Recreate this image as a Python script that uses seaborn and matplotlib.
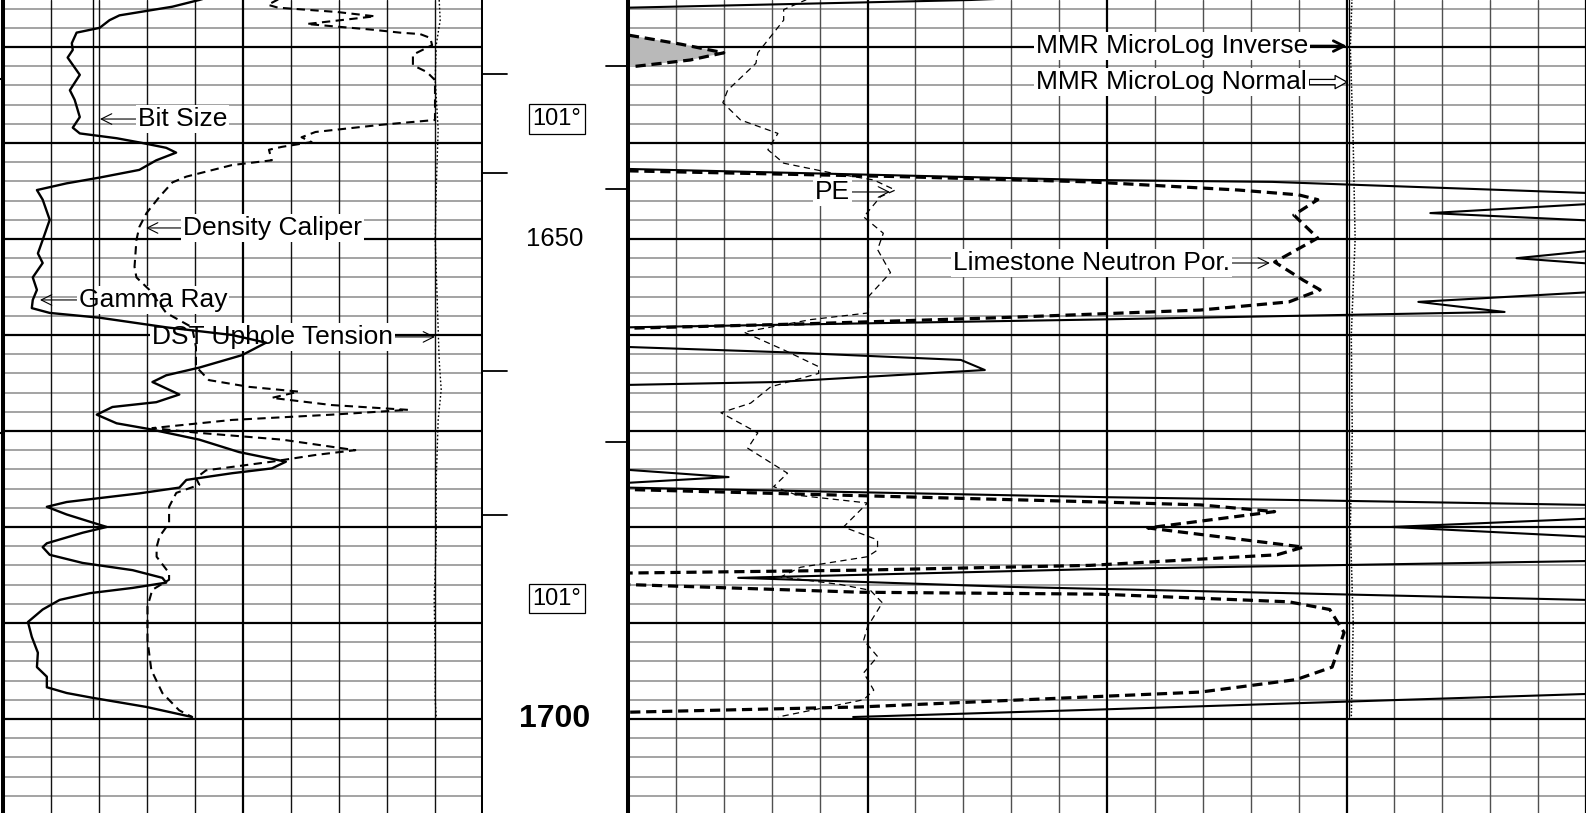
import numpy as np
import matplotlib
matplotlib.use("Agg")
import matplotlib.pyplot as plt
import seaborn as sns

# ------------------------------------------------------------------ data
# Track 1 (left) : (depth ft, value)
gr_log = [(1624.8, 64.4), (1625.1, 61.3), (1625.8, 52.9), (1626.7, 36.4), (1627.2, 33.3),
          (1628.0, 30.2), (1628.5, 23.0), (1629.6, 21.5), (1630.3, 21.8), (1631.1, 20.2),
          (1632.9, 24.0), (1634.5, 20.9), (1635.5, 22.4), (1637.3, 24.0), (1638.4, 21.8),
          (1639.0, 24.0), (1639.5, 35.5), (1640.0, 43.6), (1640.5, 51.0), (1641.0, 54.1),
          (1641.8, 47.9), (1642.8, 42.6), (1643.6, 30.2), (1644.2, 19.9), (1644.9, 10.6),
          (1645.9, 12.4), (1648.0, 14.6), (1650.1, 12.4), (1651.5, 10.9), (1652.5, 12.4),
          (1654.0, 9.3), (1655.3, 10.6), (1656.35, 9.3), (1657.2, 9.0), (1657.7, 14.6),
          (1658.2, 30.2), (1659.2, 51.0), (1660.0, 71.6), (1660.8, 82.2), (1662.1, 74.7),
          (1663.4, 61.3), (1664.2, 51.0), (1664.9, 46.7), (1666.2, 55.1), (1667.0, 47.9),
          (1667.5, 34.2), (1668.3, 29.3), (1669.2, 35.5), (1669.8, 45.7), (1670.9, 61.3),
          (1672.2, 73.8), (1673.2, 88.4), (1673.9, 84.0), (1674.4, 71.6), (1675.1, 57.3),
          (1675.9, 55.1), (1676.5, 42.6), (1677.4, 19.9), (1677.9, 13.7), (1678.7, 19.9),
          (1680.0, 32.4), (1680.6, 24.9), (1681.7, 13.7), (1682.1, 12.4), (1682.9, 14.6),
          (1683.75, 24.9), (1684.5, 40.5), (1685.3, 49.8), (1685.8, 51.0), (1686.35, 40.5),
          (1686.9, 27.1), (1687.6, 17.7), (1688.6, 12.4), (1689.9, 7.8), (1691.45, 9.0),
          (1693.1, 10.9), (1694.6, 10.6), (1695.6, 13.7), (1696.7, 13.7), (1697.3, 19.9),
          (1697.8, 28.0), (1698.75, 44.8), (1699.8, 59.1)]

density_caliper_log = [
    (1624.8, 11.8), (1625.1, 11.71), (1625.6, 11.52), (1625.9, 11.73), (1626.35, 12.96),
    (1626.8, 13.75), (1627.6, 12.33), (1627.9, 13.02), (1628.2, 13.71), (1628.5, 14.27),
    (1628.65, 14.69), (1629.05, 14.90), (1629.8, 14.94), (1630.8, 14.54), (1631.9, 14.54),
    (1632.6, 14.83), (1633.45, 15.0), (1637.6, 15.0), (1638.1, 13.88), (1638.85, 12.51),
    (1639.4, 12.22), (1639.9, 12.43), (1640.4, 11.81), (1640.7, 11.54), (1641.8, 11.60),
    (1642.3, 10.77), (1643.5, 9.82), (1644.1, 9.53), (1645.6, 9.26), (1647.3, 8.99),
    (1648.75, 8.84), (1650.1, 8.78), (1652.9, 8.74), (1654.0, 8.78), (1655.3, 9.05),
    (1657.7, 9.40), (1659.2, 9.94), (1661.25, 10.02), (1663.3, 10.02), (1664.7, 10.29),
    (1665.4, 11.12), (1665.9, 12.16), (1666.55, 11.60), (1667.3, 12.85), (1667.8, 14.44),
    (1668.3, 12.85), (1668.85, 10.77), (1669.7, 9.11), (1670.2, 10.09), (1670.9, 11.81),
    (1672.0, 13.34), (1672.5, 12.51), (1673.2, 11.60), (1674.1, 10.23), (1674.9, 10.02),
    (1675.6, 10.09), (1676.45, 9.61), (1677.9, 9.46), (1679.6, 9.46), (1681.0, 9.26),
    (1682.1, 9.20), (1683.1, 9.20), (1684.8, 9.46), (1685.5, 9.46), (1686.55, 9.11),
    (1688.3, 9.01), (1691.8, 9.01), (1694.9, 9.09), (1697.3, 9.32), (1699.1, 9.67),
    (1699.8, 9.94)]

dst_tension_log = [(1625.1, 9087), (1627.2, 9108), (1629.8, 9025), (1633.4, 9004),
                   (1638.6, 9066), (1644.9, 9025), (1650.1, 9004), (1656.35, 9046),
                   (1662.6, 9087), (1665.7, 9129), (1668.85, 9066), (1675.1, 9025),
                   (1681.35, 9025), (1687.6, 8983), (1692.8, 9004), (1698.0, 9004),
                   (1699.8, 9025)]

bit_size_log = [(1624.0, 7.875), (1699.8, 7.875)]

# Track 2 (right)
neutron_por_log = [
    (1624.6, 0.32), (1628.2, 0.32), (1628.75, 0.30), (1629.7, 0.278), (1630.6, 0.260),
    (1631.35, 0.274), (1632.1, 0.30), (1632.6, 0.32), (1642.3, 0.32), (1642.9, 0.30),
    (1643.5, 0.187), (1644.05, 0.107), (1644.9, 0.045), (1645.4, 0.020), (1645.9, 0.012),
    (1647.5, 0.022), (1649.9, 0.012), (1652.4, 0.030), (1654.3, 0.018), (1655.3, 0.011),
    (1656.55, 0.024), (1657.4, 0.061), (1658.2, 0.145), (1658.85, 0.228), (1659.3, 0.30),
    (1659.8, 0.32), (1675.6, 0.32), (1676.1, 0.30), (1677.4, 0.103), (1677.7, 0.061),
    (1678.4, 0.030), (1680.1, 0.083), (1682.1, 0.018), (1682.9, 0.029), (1684.0, 0.107),
    (1684.5, 0.203), (1684.8, 0.30), (1685.3, 0.32), (1685.6, 0.32), (1686.0, 0.30),
    (1686.8, 0.203), (1687.0, 0.103), (1687.8, 0.024), (1688.6, 0.007), (1691.0, 0.001),
    (1694.6, 0.006), (1695.9, 0.021), (1697.2, 0.061), (1697.7, 0.107), (1698.75, 0.203),
    (1699.3, 0.30), (1699.7, 0.32)]

density_por_log = [
    (1624.0, 0.05), (1625.1, 0.157), (1625.9, 0.30), (1626.35, 0.32), (1642.3, 0.32),
    (1642.7, 0.30), (1643.85, 0.107), (1644.05, 0.031), (1645.2, -0.100), (1645.5, -0.147),
    (1645.7, -0.147), (1647.3, -0.035), (1648.6, -0.147), (1650.1, -0.147), (1652.0, -0.071),
    (1653.4, -0.147), (1654.9, -0.147), (1656.55, -0.030), (1657.6, -0.066), (1658.4, 0.107),
    (1659.2, 0.30), (1659.5, 0.32), (1660.8, 0.32), (1661.25, 0.30), (1661.8, 0.235),
    (1662.6, 0.161), (1663.65, 0.151), (1664.9, 0.238), (1665.2, 0.30), (1665.5, 0.32),
    (1673.75, 0.32), (1674.05, 0.30), (1674.8, 0.258), (1675.4, 0.30), (1675.6, 0.32),
    (1675.8, 0.32), (1675.9, 0.30), (1676.9, 0.100), (1677.2, 0.020), (1677.7, -0.100),
    (1677.9, -0.147), (1678.65, -0.147), (1680.0, -0.019), (1681.6, -0.147), (1683.3, -0.147),
    (1683.55, -0.100), (1684.4, 0.107), (1685.3, 0.254), (1686.25, 0.139), (1687.6, -0.100),
    (1687.8, -0.147), (1697.0, -0.147), (1697.4, -0.100), (1699.05, 0.107), (1699.8, 0.206)]

pe_log = [(1624.9, 3.75), (1625.1, 3.71), (1626.1, 3.25), (1627.2, 3.25), (1630.6, 2.71),
          (1631.7, 2.67), (1634.5, 2.08), (1635.8, 1.98), (1637.6, 2.35), (1639.0, 3.13),
          (1640.7, 2.92), (1642.1, 3.25), (1643.1, 4.23), (1643.85, 5.13), (1644.9, 5.58),
          (1645.6, 5.27), (1647.7, 4.92), (1649.4, 5.33), (1651.1, 5.21), (1653.5, 5.48),
          (1656.0, 5.02), (1657.7, 5.02), (1658.4, 3.81), (1659.7, 2.42), (1661.55, 3.25),
          (1663.3, 3.98), (1664.0, 3.98), (1665.4, 2.98), (1667.1, 2.56), (1668.1, 1.94),
          (1670.2, 2.71), (1671.8, 2.50), (1674.4, 3.33), (1675.8, 3.04), (1676.7, 3.54),
          (1677.5, 5.00), (1680.0, 4.50), (1681.35, 5.21), (1682.4, 5.21), (1683.1, 5.00),
          (1684.2, 3.60), (1685.2, 3.19), (1686.0, 4.44), (1686.6, 5.06), (1687.9, 5.31),
          (1690.4, 5.00), (1691.8, 4.92), (1693.5, 5.21), (1695.2, 4.92), (1697.0, 5.13),
          (1698.0, 4.92), (1699.8, 3.13)]

microlog_inverse_log = [(1624.0, 15.05), (1650.0, 15.05), (1699.8, 15.05)]
microlog_normal_log = [(1624.0, 15.12), (1630.0, 15.08), (1640.0, 15.14), (1650.0, 15.18),
                       (1660.0, 15.10), (1670.0, 15.12), (1680.0, 15.08), (1690.0, 15.14),
                       (1699.8, 15.10)]

# depth track annotations
depth_labels = [1650, 1700]
temperature_text = "101°"
temperature_depths = [1637.5, 1687.5]
left_marks = [1632.8, 1643.1, 1663.75, 1678.75]
right_marks = [1632.0, 1644.8, 1671.1]
edge_marks = [1633.3, 1670.2]

# curve scales (left value -> right value)
GR_SCALE = (0, 150)
CAL_SCALE = (6, 16)
DST_SCALE = (0, 10000)
NPHI_SCALE = (0.30, -0.10)
PE_SCALE = (0, 20)
MLL_SCALE = (0, 20)

DEPTH_TOP, DEPTH_BOTTOM = 1625.1, 1709.8

# ------------------------------------------------------------------ helpers
def split(log):
    d, v = zip(*log)
    return np.array(d, float), np.array(v, float)


def to_div(values, scale, ndiv):
    lo, hi = scale
    return (np.asarray(values, float) - lo) / (hi - lo) * ndiv


def curve(ax, log, scale, ndiv, **kw):
    d, v = split(log)
    sns.lineplot(x=to_div(v, scale, ndiv), y=d, orient="y", sort=False, estimator=None,
                 ax=ax, legend=False, color="black", zorder=3, **kw)


# ------------------------------------------------------------------ figure
sns.set_style("white")
plt.rcParams["font.family"] = ["Liberation Sans", "DejaVu Sans"]
plt.rcParams["text.color"] = "black"

W, H = 1586, 813
fig = plt.figure(figsize=(W / 100, H / 100), dpi=100)


def px_axes(x0, x1):
    return fig.add_axes([x0 / W, 0, (x1 - x0) / W, 1])


ax1 = px_axes(3, 483)
ax2 = px_axes(483, 628)
ax3 = px_axes(628, 1586)


def track_grid(ax, ndiv, vcolor):
    ax.set_xlim(0, ndiv)
    ax.set_ylim(DEPTH_BOTTOM, DEPTH_TOP)
    for d in np.arange(1626, 1710, 2):
        if d % 10 == 0:
            ax.axhline(d, color="black", lw=1.6, zorder=0.6)
        else:
            ax.axhline(d, color="#8a8a8a", lw=1.1, zorder=0.5)
    for k in range(1, ndiv):
        if k % 5 == 0:
            ax.axvline(k, color="black", lw=1.6, zorder=0.7)
        else:
            ax.axvline(k, color=vcolor, lw=1.0, zorder=0.55)


track_grid(ax1, 10, "#111111")
track_grid(ax3, 20, "#505050")
ax2.set_xlim(0, 1)
ax2.set_ylim(DEPTH_BOTTOM, DEPTH_TOP)

for ax in (ax1, ax2, ax3):
    ax.set_xticks([])
    ax.set_yticks([])
    for s in ax.spines.values():
        s.set_visible(False)
for ax, side, lw in ((ax1, "left", 2.9), (ax1, "right", 2.9), (ax3, "left", 2.9), (ax3, "right", 1.6)):
    ax.spines[side].set_visible(True)
    ax.spines[side].set_linewidth(lw)
    ax.spines[side].set_color("black")

# ------------------------------------------------------------------ track 1 curves
curve(ax1, bit_size_log, CAL_SCALE, 10, lw=1.0)
curve(ax1, dst_tension_log, DST_SCALE, 10, lw=1.0, linestyle=(0, (1.2, 1.6)))
curve(ax1, density_caliper_log, CAL_SCALE, 10, lw=1.5, linestyle=(0, (4, 2.6)))
curve(ax1, gr_log, GR_SCALE, 10, lw=1.7)

for d in edge_marks:
    ax1.plot([-0.07, 0.0], [d, d], color="black", lw=1.5, clip_on=False)

# ------------------------------------------------------------------ track 2 curves
# crossover shading where density porosity plots left of neutron
dn, vn = split(neutron_por_log)
dd, vd = split(density_por_log)
grid_d = np.linspace(max(dn[0], dd[0]), min(dn[-1], dd[-1]), 4000)
xn = to_div(np.interp(grid_d, dn, vn), NPHI_SCALE, 20)
xd = to_div(np.interp(grid_d, dd, vd), NPHI_SCALE, 20)
ax3.fill_betweenx(grid_d, xd, xn, where=xd < xn, interpolate=True, color="#b9b9b9",
                  lw=0, zorder=1.5)

curve(ax3, microlog_inverse_log, MLL_SCALE, 20, lw=0.9)
curve(ax3, microlog_normal_log, MLL_SCALE, 20, lw=1.1, linestyle=(0, (1.0, 1.2)))
curve(ax3, pe_log, PE_SCALE, 20, lw=0.9, linestyle=(0, (5, 3.5)))
curve(ax3, density_por_log, NPHI_SCALE, 20, lw=1.5)
curve(ax3, neutron_por_log, NPHI_SCALE, 20, lw=2.3, linestyle=(0, (3.2, 1.8)))

# ------------------------------------------------------------------ labels
FS = 19
BOX = dict(boxstyle="square,pad=0.08", fc="white", ec="none")


def label(ax, text, tip, text_x, depth, pointing, arrowstyle="->", alw=0.8, **akw):
    left = pointing == "left"
    ax.annotate(text, xy=(tip, depth), xytext=(text_x, depth),
                ha="left" if left else "right", va="center", fontsize=FS, bbox=BOX,
                zorder=2.2, color="black",
                arrowprops=dict(arrowstyle=arrowstyle, color="black", lw=alw,
                                shrinkA=0, shrinkB=0,
                                relpos=(0, 0.5) if left else (1, 0.5), **akw))


ARW = "->,head_length=0.4,head_width=0.2"
label(ax1, "Bit Size", 2.02, 2.81, 1637.5, "left", ARW)
label(ax1, "Density Caliper", 2.98, 3.75, 1648.85, "left", ARW)
label(ax1, "Gamma Ray", 0.77, 1.58, 1656.35, "left", ARW)
label(ax1, "DST Uphole Tension", 9.0, 8.125, 1660.2, "right", ARW)

label(ax3, "MMR MicroLog Inverse", 15.01, 14.2, 1629.9, "right", ARW, alw=2.0)
label(ax3, "MMR MicroLog Normal", 15.01, 14.18, 1633.65, "right",
      "simple,head_length=0.45,head_width=0.5,tail_width=0.2", alw=0.9, fc="white", ec="black")
label(ax3, "PE", 5.47, 4.63, 1645.1, "right", ARW)
label(ax3, "Limestone Neutron Por.", 13.4, 12.57, 1652.5, "right", ARW)

# ------------------------------------------------------------------ depth track
for d in depth_labels:
    big = d % 100 == 0
    ax2.text(0.497, d, str(d), ha="center", va="center", color="black",
             fontsize=23 if big else 18.5, fontweight="bold" if big else "normal")
for d in temperature_depths:
    ax2.text(0.51, d, temperature_text, ha="center", va="center", fontsize=17, color="black",
             bbox=dict(boxstyle="square,pad=0.15", fc="white", ec="black", lw=0.9))
for d in left_marks:
    ax2.plot([0.0, 0.166], [d, d], color="black", lw=1.3)
for d in right_marks:
    ax2.plot([0.85, 1.0], [d, d], color="black", lw=1.3)

fig.savefig("out.png", dpi=100)
